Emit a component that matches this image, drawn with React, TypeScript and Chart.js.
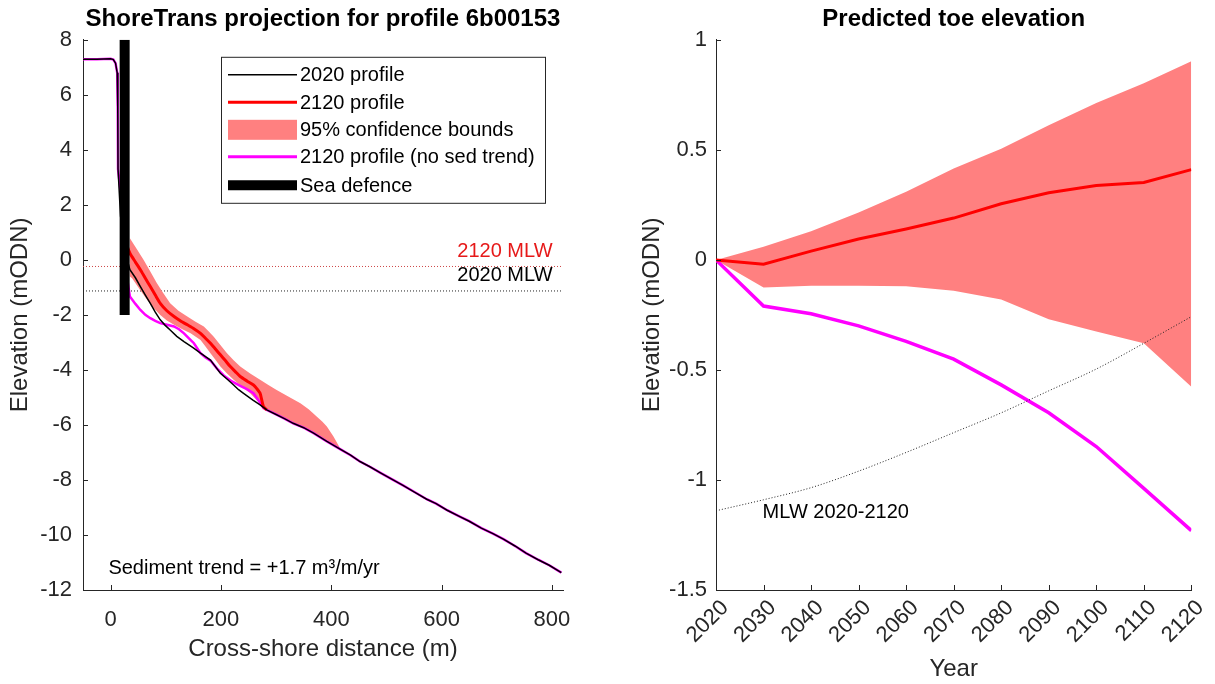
import React, { useEffect, useRef } from "react";
import { Chart, registerables } from "chart.js";

Chart.register(...registerables);

const FONT = "'Liberation Sans', Arial, Helvetica, sans-serif";
const AXIS_COLOR = "#262626";
const BAND_COLOR = "#ff8080";
const RED = "#ff0000";
const MAGENTA = "#ff00ff";

// ---------------- Left panel: ShoreTrans profile ----------------
const leftXTicks = [0, 200, 400, 600, 800];
const leftYTicks = [-12, -10, -8, -6, -4, -2, 0, 2, 4, 6, 8];

// crest shared by all profiles (m, mODN)
const crestX = [-50, -25, 0, 5, 9, 12, 13, 13.5];
const crestY = [7.29, 7.29, 7.31, 7.28, 7.15, 6.8, 5.5, 3.3];

// 2020 profile, near-shore part
const p2020NearX = [18, 25, 35, 45, 54, 63, 72, 81, 90, 99, 108, 120, 133, 150, 163, 181, 190, 199, 212, 223, 232, 241, 258, 271];
const p2020NearY = [1.6, 0.4, -0.36, -0.65, -0.97, -1.28, -1.58, -1.9, -2.18, -2.38, -2.55, -2.78, -2.97, -3.2, -3.39, -3.64, -3.88, -4.12, -4.35, -4.55, -4.72, -4.85, -5.1, -5.27];

// offshore part shared by the profiles
const sharedFarX = [283, 300, 316, 331, 350, 368, 392, 416, 435, 452, 470, 490, 512, 530, 550, 573, 590, 610, 633, 650, 672, 693, 712, 733, 753, 775, 795, 817];
const sharedFarY = [-5.45, -5.62, -5.78, -5.94, -6.1, -6.3, -6.6, -6.88, -7.1, -7.33, -7.52, -7.75, -8.0, -8.2, -8.43, -8.7, -8.86, -9.1, -9.33, -9.5, -9.75, -9.95, -10.15, -10.4, -10.66, -10.9, -11.1, -11.37];

// 2120 profile
const p2120X = [28, 35, 45, 54, 63, 72, 81, 90, 102, 115, 127, 139, 151, 163, 172, 181, 190, 199, 208, 217, 226, 235, 247, 259, 265, 271, 277, 283];
const p2120Y = [0.6, 0.24, -0.08, -0.36, -0.67, -0.97, -1.28, -1.58, -1.85, -2.06, -2.22, -2.36, -2.5, -2.67, -2.85, -3.03, -3.24, -3.45, -3.66, -3.88, -4.06, -4.24, -4.4, -4.55, -4.68, -4.85, -5.33, -5.45];

// 2120 profile (no sed trend), near-shore part
const noSedNearX = [18, 25, 35, 45, 54, 63, 72, 81, 90, 102, 115, 124, 133, 142, 151, 163, 172, 181, 193, 205, 220, 235, 247, 259, 268, 277];
const noSedNearY = [2.5, 0.0, -1.33, -1.6, -1.82, -2.0, -2.12, -2.22, -2.3, -2.36, -2.42, -2.52, -2.67, -2.85, -3.03, -3.39, -3.55, -3.66, -3.95, -4.2, -4.42, -4.58, -4.7, -4.85, -5.1, -5.39];

// 95% confidence bounds
const upperX = [35, 48, 60, 72, 84, 96, 108, 123, 139, 154, 169, 178, 187, 199, 211, 223, 235, 253, 271, 286, 301, 322, 344, 359, 374, 384, 392, 404, 416];
const upperY = [0.79, 0.38, 0.0, -0.42, -0.85, -1.22, -1.58, -1.85, -2.06, -2.25, -2.42, -2.6, -2.79, -3.09, -3.39, -3.65, -3.88, -4.13, -4.36, -4.55, -4.73, -4.97, -5.21, -5.43, -5.7, -5.88, -6.06, -6.42, -6.85];
const lowerNearX = [35, 39, 52, 66, 78, 90, 102, 115, 130, 145, 163, 172, 181, 190, 199, 211, 223, 238, 253, 265, 277];
const lowerNearY = [-0.6, -0.67, -1.05, -1.45, -1.75, -2.0, -2.2, -2.36, -2.52, -2.67, -2.91, -3.15, -3.39, -3.63, -3.88, -4.13, -4.36, -4.6, -4.85, -5.1, -5.39];

// sea defence
const seaDefX = [25.5, 25.5];
const seaDefY = [-2, 8];

// mean low water levels
const mlw2020 = -1.13;
const mlw2120 = -0.24;
const mlwSpanX = [-50, 820];

// ---------------- Right panel: toe elevation ----------------
const years = [2020, 2030, 2040, 2050, 2060, 2070, 2080, 2090, 2100, 2110, 2120];
const toe2120 = [0, -0.02, 0.04, 0.095, 0.14, 0.19, 0.255, 0.305, 0.338, 0.352, 0.41];
const toeUpper = [0, 0.06, 0.13, 0.215, 0.31, 0.415, 0.505, 0.612, 0.713, 0.803, 0.903];
const toeLower = [0, -0.125, -0.118, -0.118, -0.12, -0.14, -0.18, -0.27, -0.325, -0.379, -0.577];
const toeNoSed = [0, -0.21, -0.245, -0.3, -0.37, -0.451, -0.568, -0.695, -0.848, -1.038, -1.23];
const mlwByYear = [-1.14, -1.09, -1.035, -0.96, -0.875, -0.785, -0.695, -0.595, -0.496, -0.379, -0.258];
const rightYTicks = [-1.5, -1, -0.5, 0, 0.5, 1];

// ---------------- helpers ----------------
const pts = (xs: number[], ys: number[]) => xs.map((x, i) => ({ x, y: ys[i] }));

const inwardTicks = {
  id: "inwardTicks",
  afterDraw(chart: any) {
    const { ctx, chartArea: a } = chart;
    const xs = chart.scales.x;
    const ys = chart.scales.y;
    ctx.save();
    ctx.strokeStyle = AXIS_COLOR;
    ctx.lineWidth = 1;
    ctx.beginPath();
    xs.ticks.forEach((t: any) => {
      const px = Math.round(xs.getPixelForValue(t.value)) + 0.5;
      ctx.moveTo(px, a.bottom);
      ctx.lineTo(px, a.bottom - 5);
    });
    ys.ticks.forEach((t: any) => {
      const py = Math.round(ys.getPixelForValue(t.value)) + 0.5;
      ctx.moveTo(a.left, py);
      ctx.lineTo(a.left + 5, py);
    });
    ctx.stroke();
    ctx.restore();
  },
};

type TextItem = { text: string; x: number; y: number; color: string; align: CanvasTextAlign };

const makeTextPlugin = (id: string, items: TextItem[]) => ({
  id,
  afterDatasetsDraw(chart: any) {
    const { ctx } = chart;
    ctx.save();
    ctx.font = `20px ${FONT}`;
    ctx.textBaseline = "middle";
    items.forEach((it) => {
      ctx.fillStyle = it.color;
      ctx.textAlign = it.align;
      ctx.fillText(it.text, chart.scales.x.getPixelForValue(it.x), chart.scales.y.getPixelForValue(it.y));
    });
    ctx.restore();
  },
});

type LegendEntry = { label: string; kind: "line" | "box"; color: string; width?: number };
const leftLegendEntries: LegendEntry[] = [
  { label: "2020 profile", kind: "line", color: "#000000", width: 1.5 },
  { label: "2120 profile", kind: "line", color: RED, width: 3 },
  { label: "95% confidence bounds", kind: "box", color: BAND_COLOR },
  { label: "2120 profile (no sed trend)", kind: "line", color: MAGENTA, width: 3 },
  { label: "Sea defence", kind: "line", color: "#000000", width: 10 },
];

const legendPlugin = {
  id: "boxLegend",
  afterDatasetsDraw(chart: any) {
    const { ctx, chartArea: a } = chart;
    const bx = a.left + 138;
    const by = a.top + 17;
    const bw = 324;
    const bh = 146;
    const rows = [18, 45.5, 73, 100, 128.5];
    ctx.save();
    ctx.fillStyle = "#ffffff";
    ctx.fillRect(bx, by, bw, bh);
    ctx.strokeStyle = AXIS_COLOR;
    ctx.lineWidth = 1;
    ctx.strokeRect(bx + 0.5, by + 0.5, bw, bh);
    ctx.font = `20px ${FONT}`;
    ctx.textBaseline = "middle";
    ctx.textAlign = "left";
    leftLegendEntries.forEach((e, i) => {
      const y = by + rows[i];
      const x0 = bx + 7;
      const x1 = bx + 76;
      if (e.kind === "box") {
        ctx.fillStyle = e.color;
        ctx.fillRect(x0, y - 10, x1 - x0, 20);
      } else {
        ctx.strokeStyle = e.color;
        ctx.lineWidth = e.width || 1;
        ctx.lineCap = "butt";
        ctx.beginPath();
        ctx.moveTo(x0, y);
        ctx.lineTo(x1, y);
        ctx.stroke();
      }
      ctx.fillStyle = "#000000";
      ctx.fillText(e.label, bx + 79, y + 1);
    });
    ctx.restore();
  },
};

const tickFont = { family: FONT, size: 22 };
const labelFont = { family: FONT, size: 24 };

function leftConfig(): any {
  const profile2020 = pts([...crestX, ...p2020NearX, ...sharedFarX], [...crestY, ...p2020NearY, ...sharedFarY]);
  const noSed = pts([...crestX, ...noSedNearX, ...sharedFarX], [...crestY, ...noSedNearY, ...sharedFarY]);
  const lowerFar = pts(sharedFarX, sharedFarY).filter((p) => p.x <= 416);
  const band = [...pts(upperX, upperY), ...lowerFar.slice().reverse(), ...pts(lowerNearX, lowerNearY).reverse()];
  return {
    type: "line",
    data: {
      datasets: [
        { label: "Sea defence", data: pts(seaDefX, seaDefY), borderColor: "#000", borderWidth: 10, borderCapStyle: "butt", order: 0 },
        { label: "2020 profile", data: profile2020, borderColor: "#000", borderWidth: 1.5, order: 1 },
        { label: "2120 profile", data: pts(p2120X, p2120Y), borderColor: RED, borderWidth: 3, tension: 0.2, order: 2 },
        { label: "2120 profile (no sed trend)", data: noSed, borderColor: MAGENTA, borderWidth: 2.5, order: 3 },
        { label: "95% confidence bounds", data: band, borderColor: "transparent", backgroundColor: BAND_COLOR, borderWidth: 0, fill: "shape", order: 4 },
        { label: "2120 MLW", data: pts(mlwSpanX, [mlw2120, mlw2120]), borderColor: "rgb(205,70,70)", borderWidth: 1, borderDash: [1, 2], order: 5 },
        { label: "2020 MLW", data: pts(mlwSpanX, [mlw2020, mlw2020]), borderColor: "#222", borderWidth: 1, borderDash: [1, 2], order: 6 },
      ],
    },
    options: {
      responsive: false,
      animation: false,
      events: [],
      elements: { point: { radius: 0 } },
      layout: { padding: { left: 0, right: 44, top: 0, bottom: 0 } },
      plugins: {
        legend: { display: false },
        tooltip: { enabled: false },
        title: {
          display: true,
          text: "ShoreTrans projection for profile 6b00153",
          font: { family: FONT, size: 24, weight: "bold" },
          color: "#000",
          padding: { top: 5, bottom: 6 },
          fullSize: false,
        },
      },
      scales: {
        x: {
          type: "linear",
          min: -50,
          max: 820,
          afterBuildTicks: (ax: any) => { ax.ticks = leftXTicks.map((v) => ({ value: v })); },
          afterFit: (ax: any) => { ax.height = 94; },
          grid: { display: false, drawTicks: false },
          border: { display: true, color: AXIS_COLOR, width: 1 },
          ticks: { font: tickFont, color: AXIS_COLOR, padding: 17, maxRotation: 0, autoSkip: false, callback: (v: any) => String(v) },
          title: { display: true, text: "Cross-shore distance (m)", font: labelFont, color: AXIS_COLOR, padding: { top: 0, bottom: 20 } },
        },
        y: {
          type: "linear",
          min: -12,
          max: 8,
          afterBuildTicks: (ax: any) => { ax.ticks = leftYTicks.map((v) => ({ value: v })); },
          afterFit: (ax: any) => { ax.width = 83; },
          grid: { display: false, drawTicks: false },
          border: { display: true, color: AXIS_COLOR, width: 1 },
          ticks: { font: tickFont, color: AXIS_COLOR, padding: 11, autoSkip: false, callback: (v: any) => String(v) },
          title: { display: true, text: "Elevation (mODN)", font: labelFont, color: AXIS_COLOR, padding: { top: 6, bottom: 0 } },
        },
      },
    },
    plugins: [
      inwardTicks,
      legendPlugin,
      makeTextPlugin("leftText", [
        { text: "2120 MLW", x: 801, y: 0.3, color: "rgb(230,25,25)", align: "right" },
        { text: "2020 MLW", x: 801, y: -0.55, color: "#000", align: "right" },
        { text: "Sediment trend = +1.7 m³/m/yr", x: -4, y: -11.2, color: "#000", align: "left" },
      ]),
    ],
  };
}

function rightConfig(): any {
  return {
    type: "line",
    data: {
      datasets: [
        { label: "MLW 2020-2120", data: pts(years, mlwByYear), borderColor: "#222", borderWidth: 1, borderDash: [1, 2], cubicInterpolationMode: "monotone", order: 0 },
        { label: "2120 toe", data: pts(years, toe2120), borderColor: RED, borderWidth: 3, order: 1 },
        { label: "2120 toe (no sed trend)", data: pts(years, toeNoSed), borderColor: MAGENTA, borderWidth: 3.5, order: 2 },
        { label: "Upper 95%", data: pts(years, toeUpper), borderColor: "transparent", borderWidth: 0, backgroundColor: BAND_COLOR, fill: "+1", order: 3 },
        { label: "Lower 95%", data: pts(years, toeLower), borderColor: "transparent", borderWidth: 0, order: 4 },
      ],
    },
    options: {
      responsive: false,
      animation: false,
      events: [],
      elements: { point: { radius: 0 } },
      layout: { padding: { left: 0, right: 19, top: 0, bottom: 0 } },
      plugins: {
        legend: { display: false },
        tooltip: { enabled: false },
        title: {
          display: true,
          text: "Predicted toe elevation",
          font: { family: FONT, size: 24, weight: "bold" },
          color: "#000",
          padding: { top: 5, bottom: 6 },
          fullSize: false,
        },
      },
      scales: {
        x: {
          type: "linear",
          min: 2020,
          max: 2120,
          afterBuildTicks: (ax: any) => { ax.ticks = years.map((v) => ({ value: v })); },
          afterFit: (ax: any) => { ax.height = 94; },
          grid: { display: false, drawTicks: false },
          border: { display: true, color: AXIS_COLOR, width: 1 },
          ticks: { font: tickFont, color: AXIS_COLOR, padding: 5, labelOffset: 9, minRotation: 45, maxRotation: 45, autoSkip: false, callback: (v: any) => String(v) },
          title: { display: true, text: "Year", font: labelFont, color: AXIS_COLOR, padding: { top: 0, bottom: 0 } },
        },
        y: {
          type: "linear",
          min: -1.5,
          max: 1,
          afterBuildTicks: (ax: any) => { ax.ticks = rightYTicks.map((v) => ({ value: v })); },
          afterFit: (ax: any) => { ax.width = 109; },
          grid: { display: false, drawTicks: false },
          border: { display: true, color: AXIS_COLOR, width: 1 },
          ticks: { font: tickFont, color: AXIS_COLOR, padding: 9, autoSkip: false, callback: (v: any) => String(v) },
          title: { display: true, text: "Elevation (mODN)", font: labelFont, color: AXIS_COLOR, padding: { top: 31, bottom: 0 } },
        },
      },
    },
    plugins: [
      inwardTicks,
      makeTextPlugin("rightText", [{ text: "MLW 2020-2120", x: 2029.8, y: -1.15, color: "#000", align: "left" }]),
    ],
  };
}

function ChartCanvas({ make, left, width }: { make: () => any; left: number; width: number }) {
  const ref = useRef<HTMLCanvasElement | null>(null);
  useEffect(() => {
    if (!ref.current) return;
    const chart = new Chart(ref.current, make());
    return () => chart.destroy();
  }, []);
  return (
    <canvas
      ref={ref}
      width={width}
      height={684}
      style={{ position: "absolute", left, top: 0, width, height: 684, display: "block" }}
    />
  );
}

export default function App() {
  return (
    <div style={{ position: "absolute", left: 0, top: 0, width: 1215, height: 684, background: "#ffffff", overflow: "hidden" }}>
      <ChartCanvas make={leftConfig} left={0} width={607} />
      <ChartCanvas make={rightConfig} left={607} width={608} />
    </div>
  );
}
